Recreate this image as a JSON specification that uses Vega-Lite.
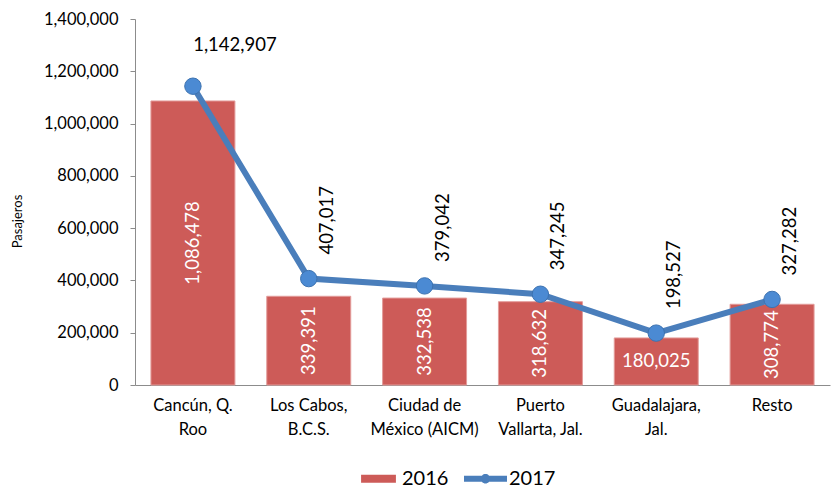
{
  "$schema": "https://vega.github.io/schema/vega-lite/v6.json",
  "width": 695,
  "height": 366,
  "autosize": {"type": "none"},
  "padding": {"left": 135, "top": 19, "right": 4, "bottom": 102},
  "background": "#ffffff",
  "config": {
    "view": {"stroke": null},
    "font": "Lato",
    "text": {"font": "Lato"}
  },
  "data": {
    "values": [
      {"city": "Cancún, Q.\nRoo", "year": "2016", "value": 1086478},
      {"city": "Los Cabos,\nB.C.S.", "year": "2016", "value": 339391},
      {"city": "Ciudad de\nMéxico (AICM)", "year": "2016", "value": 332538},
      {"city": "Puerto\nVallarta, Jal.", "year": "2016", "value": 318632},
      {"city": "Guadalajara,\nJal.", "year": "2016", "value": 180025},
      {"city": "Resto", "year": "2016", "value": 308774},
      {"city": "Cancún, Q.\nRoo", "year": "2017", "value": 1142907},
      {"city": "Los Cabos,\nB.C.S.", "year": "2017", "value": 407017},
      {"city": "Ciudad de\nMéxico (AICM)", "year": "2017", "value": 379042},
      {"city": "Puerto\nVallarta, Jal.", "year": "2017", "value": 347245},
      {"city": "Guadalajara,\nJal.", "year": "2017", "value": 198527},
      {"city": "Resto", "year": "2017", "value": 327282}
    ]
  },
  "layer": [
    {
      "transform": [{"filter": "datum.year === '2016'"}],
      "mark": {"type": "bar", "stroke": "#E39C9A", "strokeWidth": 1},
      "encoding": {
        "x": {
          "field": "city", "type": "nominal", "sort": null,
          "scale": {"paddingInner": 0.275, "paddingOuter": 0.1375},
          "axis": {
            "title": null, "labelAngle": 0, "tickSize": 0, "domainColor": "#8c8c8c",
            "labelExpr": "split(datum.label, '\\n')",
            "labelFontSize": 16.5, "labelColor": "#000000", "labelPadding": 12,
            "labelLineHeight": 24, "labelBaseline": "top", "labelFont": "Lato"
          }
        },
        "y": {
          "field": "value", "type": "quantitative",
          "scale": {"domain": [0, 1400000], "nice": false, "zero": true},
          "axis": {
            "values": [0, 200000, 400000, 600000, 800000, 1000000, 1200000, 1400000],
            "format": ",.0f", "grid": false, "tickSize": 5, "tickColor": "#8c8c8c",
            "domainColor": "#8c8c8c", "labelPadding": 12, "labelFontSize": 16.5,
            "labelColor": "#000000", "labelFont": "Lato",
            "title": "Pasajeros", "titleFontSize": 13, "titleFontWeight": "normal",
            "titleFont": "Lato", "titleColor": "#000000",
            "titleAngle": 270, "titleX": -118, "titleY": 202,
            "titleAlign": "center", "titleBaseline": "middle"
          }
        },
        "color": {
          "field": "year", "type": "nominal",
          "scale": {"domain": ["2016", "2017"], "range": ["#CD5B58", "#4A7EBB"]},
          "legend": {
            "orient": "none", "legendX": 222, "legendY": 438,
            "direction": "horizontal", "title": null,
            "labelFontSize": 20, "labelFont": "Lato", "labelColor": "#000000",
            "symbolSize": 1849, "labelOffset": 2, "columnPadding": 15,
            "symbolStrokeWidth": 0, "symbolOpacity": 1,
            "symbolType": {"expr": "datum.value === '2016' ? 'M-0.81,-0.19H0.81V0.19H-0.81Z' : 'M-1,-0.14H1V0.14H-1Z M-0.22,0 A0.22,0.22 0 1,1 0.22,0 A0.22,0.22 0 1,1 -0.22,0 Z'"}
          }
        }
      }
    },
    {
      "transform": [{"filter": "datum.year === '2017'"}],
      "mark": {"type": "line", "strokeWidth": 6},
      "encoding": {
        "x": {"field": "city", "type": "nominal", "sort": null},
        "y": {"field": "value", "type": "quantitative", "scale": {"domain": [0, 1400000], "nice": false}, "axis": null},
        "color": {"field": "year", "type": "nominal"}
      }
    },
    {
      "transform": [{"filter": "datum.year === '2017'"}],
      "mark": {"type": "point", "filled": true, "size": 270, "fill": "#4B8AD3", "stroke": "#3C72B0", "strokeWidth": 1, "opacity": 1},
      "encoding": {
        "x": {"field": "city", "type": "nominal", "sort": null},
        "y": {"field": "value", "type": "quantitative", "scale": {"domain": [0, 1400000], "nice": false}, "axis": null}
      }
    },
    {
      "transform": [{"filter": "datum.year === '2016' && indexof(datum.city, 'Guadalajara') !== 0"}],
      "mark": {"type": "text", "angle": 270, "align": "center", "baseline": "middle", "fill": "#ffffff", "fontSize": 18.5},
      "encoding": {
        "x": {"field": "city", "type": "nominal", "sort": null},
        "y": {"field": "value", "type": "quantitative", "scale": {"domain": [0, 2800000], "nice": false}, "axis": null},
        "text": {"field": "value", "type": "quantitative", "format": ",.0f"}
      }
    },
    {
      "transform": [{"filter": "datum.year === '2016' && indexof(datum.city, 'Guadalajara') === 0"}],
      "mark": {"type": "text", "angle": 0, "align": "center", "baseline": "middle", "fill": "#ffffff", "fontSize": 18.5},
      "encoding": {
        "x": {"field": "city", "type": "nominal", "sort": null},
        "y": {"field": "value", "type": "quantitative", "scale": {"domain": [0, 2800000], "nice": false}, "axis": null},
        "text": {"field": "value", "type": "quantitative", "format": ",.0f"}
      }
    },
    {
      "transform": [{"filter": "datum.year === '2017' && indexof(datum.city, 'Canc') !== 0"}],
      "mark": {"type": "text", "angle": 270, "align": "left", "baseline": "middle", "fill": "#000000", "fontSize": 18.5, "dx": 24, "dy": 18},
      "encoding": {
        "x": {"field": "city", "type": "nominal", "sort": null},
        "y": {"field": "value", "type": "quantitative", "scale": {"domain": [0, 1400000], "nice": false}, "axis": null},
        "text": {"field": "value", "type": "quantitative", "format": ",.0f"}
      }
    },
    {
      "transform": [{"filter": "datum.year === '2017' && indexof(datum.city, 'Canc') === 0"}],
      "mark": {"type": "text", "angle": 0, "align": "center", "baseline": "middle", "fill": "#000000", "fontSize": 18.5, "dx": 42, "dy": -41},
      "encoding": {
        "x": {"field": "city", "type": "nominal", "sort": null},
        "y": {"field": "value", "type": "quantitative", "scale": {"domain": [0, 1400000], "nice": false}, "axis": null},
        "text": {"field": "value", "type": "quantitative", "format": ",.0f"}
      }
    }
  ],
  "resolve": {"scale": {"y": "independent"}}
}
